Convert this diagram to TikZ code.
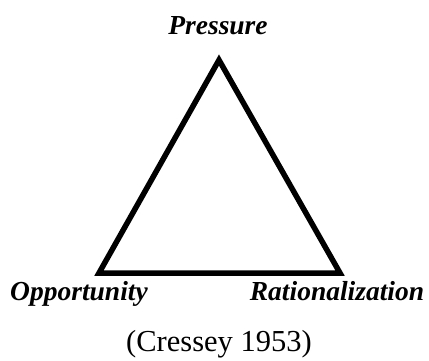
\documentclass[tikz,border=0pt]{standalone}
\usepackage{fontspec}
\setmainfont{Liberation Serif}
\usepackage{tikz}
\usetikzlibrary{positioning}

\begin{document}
\begin{tikzpicture}[x=1pt, y=-1pt]
\tikzstyle{corner}=[font=\fontsize{27.5}{30}\selectfont\bfseries\itshape, inner sep=0pt, anchor=base]
\tikzstyle{source}=[font=\fontsize{30.5}{33}\selectfont, inner sep=0pt, anchor=base]
\useasboundingbox (0,0) rectangle (429,360);
% triangle corners
\coordinate (top) at (219,60);
\coordinate (left) at (99,273);
\coordinate (right) at (340,273);
\draw[line width=5.5pt, line join=miter] (top) -- (left) -- (right) -- cycle;
% labels
\node[corner] (pressure) at (218,34) {Pressure};
\node[corner] (opportunity) at (79,300) {Opportunity};
\node[corner] (rational) at (337,300) {Rationalization};
\node[source] (cressey) at (219,351) {(Cressey 1953)};
\end{tikzpicture}
\end{document}
